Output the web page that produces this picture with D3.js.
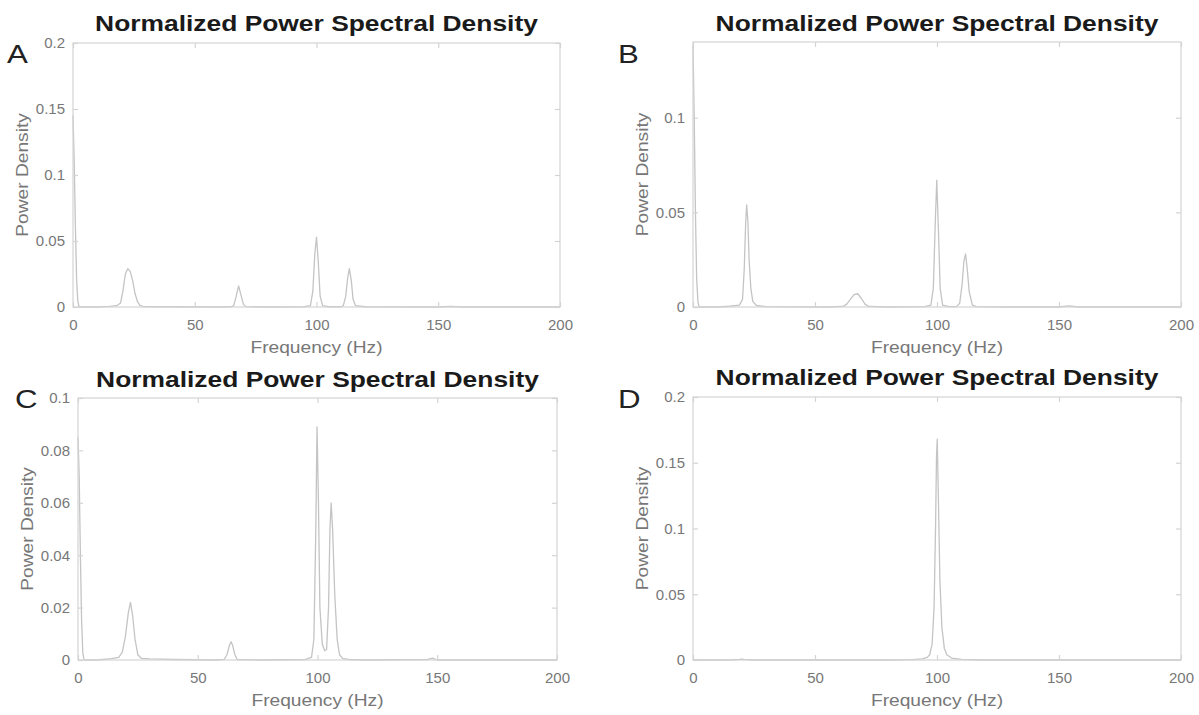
<!DOCTYPE html>
<html>
<head>
<meta charset="utf-8">
<script src="https://cdn.jsdelivr.net/npm/d3@7"></script>
<style>
  body { margin: 0; background: #fff; }
  svg { display: block; font-family: "Liberation Sans", Arial, Helvetica, sans-serif; }
</style>
</head>
<body>
<div id="chart"></div>
<script>
// spectra (Hz, normalized power density)
const freqA = [0, 0.5, 1, 1.5, 2, 2.5, 10, 15, 18, 19.5, 20.5, 21.5, 22.5, 23.5, 24.5, 25.5, 26.5, 27.5, 29, 35, 60, 65, 66, 67, 68, 69, 70, 71, 80, 95, 97.5, 98.5, 99.3, 100, 100.7, 101.5, 102.5, 105, 110, 111, 112, 112.8, 113.5, 114.3, 115, 116, 120, 150, 155, 160, 200];
const psdA  = [0.145, 0.11, 0.06, 0.02, 0.004, 0, 0, 0.0004, 0.001, 0.003, 0.012, 0.025, 0.029, 0.027, 0.02, 0.01, 0.004, 0.0012, 0.0003, 0.0002, 0, 0.0002, 0.001, 0.008, 0.016, 0.009, 0.002, 0.0003, 0, 0.0002, 0.001, 0.012, 0.04, 0.053, 0.035, 0.008, 0.001, 0.0002, 0.0002, 0.001, 0.008, 0.022, 0.029, 0.02, 0.006, 0.001, 0.0002, 0, 0.0004, 0, 0];

const freqB = [0, 0.5, 1, 1.5, 2, 2.5, 10, 15, 19, 20.3, 21, 21.6, 22, 22.5, 23, 23.7, 24.5, 26, 30, 55, 61.5, 63, 64.5, 66, 67.5, 69, 70.5, 72, 80, 95, 97.5, 98.5, 99.3, 99.9, 100.6, 101.3, 102.3, 105, 108, 109.3, 110.3, 111, 111.7, 112.4, 113.2, 114.5, 116, 130, 150, 154, 158, 200];
const psdB  = [0.138, 0.1, 0.05, 0.015, 0.003, 0, 0, 0.0004, 0.001, 0.004, 0.02, 0.045, 0.054, 0.045, 0.025, 0.01, 0.003, 0.0008, 0.0002, 0, 0.0003, 0.0015, 0.004, 0.0065, 0.007, 0.0045, 0.0015, 0.0003, 0, 0.0002, 0.001, 0.01, 0.045, 0.067, 0.04, 0.01, 0.001, 0.0002, 0.0002, 0.002, 0.012, 0.024, 0.028, 0.02, 0.008, 0.001, 0.0002, 0, 0, 0.0006, 0, 0];

const freqC = [0, 0.5, 1, 1.5, 2, 2.5, 8, 14, 17, 18.5, 19.8, 21, 21.9, 22.8, 23.8, 25, 26.5, 30, 40, 58, 61, 62.2, 63.2, 63.9, 64.6, 65.5, 66.5, 75, 95, 97.5, 98.5, 99.3, 99.8, 100.4, 101, 102, 103, 103.8, 104.6, 105.2, 105.7, 106.3, 107.2, 108.2, 109.2, 110.5, 113, 120, 146, 148, 150, 200];
const psdC  = [0.085, 0.07, 0.04, 0.015, 0.003, 0, 0, 0.0005, 0.001, 0.003, 0.009, 0.018, 0.022, 0.017, 0.008, 0.002, 0.0006, 0.0004, 0.0002, 0, 0.0002, 0.002, 0.0055, 0.007, 0.0055, 0.002, 0.0002, 0, 0.0002, 0.001, 0.008, 0.05, 0.089, 0.06, 0.02, 0.006, 0.0035, 0.004, 0.02, 0.05, 0.06, 0.05, 0.025, 0.008, 0.002, 0.0006, 0.0002, 0, 0.0002, 0.0007, 0, 0];

const freqD = [0, 15, 19, 20, 21, 25, 80, 90, 94, 96, 97, 98, 98.8, 99.4, 99.8, 100.1, 100.6, 101.2, 102, 103, 104, 106, 110, 115, 120, 200];
const psdD  = [0, 0, 0.0004, 0.0006, 0.0004, 0, 0, 0.0003, 0.0008, 0.002, 0.004, 0.012, 0.04, 0.1, 0.155, 0.168, 0.12, 0.06, 0.025, 0.009, 0.004, 0.0015, 0.0005, 0.0002, 0, 0];

const xTicks = [0, 50, 100, 150, 200];
const yTicksA = [0, 0.05, 0.1, 0.15, 0.2];
const yTicksB = [0, 0.05, 0.1];
const yTicksC = [0, 0.02, 0.04, 0.06, 0.08, 0.1];
const yTicksD = [0, 0.05, 0.1, 0.15, 0.2];

const panelLetters = ["A", "B", "C", "D"];
const titleText = "Normalized Power Spectral Density";
const xLabel = "Frequency (Hz)";
const yLabel = "Power Density";

const W = 1199, H = 715;
const svg = d3.select("#chart").append("svg").attr("width", W).attr("height", H);

// layout of the four axes boxes
const panels = [
  { letter: panelLetters[0], freq: freqA, psd: psdA, yMax: 0.2,  yTicks: yTicksA, l: 73,  r: 560,  t: 43,  b: 307, titleY: 31,  letterX: 7,   letterY: 63 },
  { letter: panelLetters[1], freq: freqB, psd: psdB, yMax: 0.14, yTicks: yTicksB, l: 693, r: 1181, t: 42,  b: 307, titleY: 31,  letterX: 618, letterY: 63 },
  { letter: panelLetters[2], freq: freqC, psd: psdC, yMax: 0.1,  yTicks: yTicksC, l: 78,  r: 557,  t: 398, b: 660, titleY: 387, letterX: 15,  letterY: 408 },
  { letter: panelLetters[3], freq: freqD, psd: psdD, yMax: 0.2,  yTicks: yTicksD, l: 693, r: 1181, t: 397, b: 660, titleY: 385, letterX: 618, letterY: 408 }
];

const frameColor = "#d4d4d4";
const tickTextColor = "#777";
const lineColor = "#c4c4c4";
const wide = 1.2; // the figure's lettering runs wider than Arial

panels.forEach(p => {
  const g = svg.append("g");
  const x = d3.scaleLinear().domain([0, 200]).range([p.l, p.r]);
  const y = d3.scaleLinear().domain([0, p.yMax]).range([p.b, p.t]);

  // the spectrum
  const pts = p.freq.map((f, i) => [f, p.psd[i]]);
  g.append("path")
    .datum(pts)
    .attr("fill", "none")
    .attr("stroke", lineColor)
    .attr("stroke-width", 1.3)
    .attr("stroke-linejoin", "round")
    .attr("d", d3.line().x(d => x(d[0])).y(d => y(d[1])));

  // box with inward ticks (matlab style)
  g.append("rect")
    .attr("x", p.l).attr("y", p.t)
    .attr("width", p.r - p.l).attr("height", p.b - p.t)
    .attr("fill", "none").attr("stroke", frameColor).attr("stroke-width", 1.2);

  const styleAxis = sel => {
    sel.select(".domain").remove();
    sel.selectAll(".tick line").attr("stroke", frameColor).attr("stroke-width", 1.2);
    sel.selectAll(".tick text").attr("fill", tickTextColor).style("font-size", "15px");
  };

  g.append("g").attr("transform", `translate(0,${p.b})`)
    .call(d3.axisBottom(x).tickValues(xTicks).tickSizeInner(-5).tickSizeOuter(0).tickPadding(12).tickFormat(d3.format("d")))
    .call(styleAxis);
  g.append("g").attr("transform", `translate(0,${p.t})`)
    .call(d3.axisTop(x).tickValues(xTicks).tickSizeInner(-5).tickSizeOuter(0).tickFormat(""))
    .call(styleAxis);
  g.append("g").attr("transform", `translate(${p.l},0)`)
    .call(d3.axisLeft(y).tickValues(p.yTicks).tickSizeInner(-5).tickSizeOuter(0).tickPadding(8).tickFormat(d => String(d)))
    .call(styleAxis);
  g.append("g").attr("transform", `translate(${p.r},0)`)
    .call(d3.axisRight(y).tickValues(p.yTicks).tickSizeInner(-5).tickSizeOuter(0).tickFormat(""))
    .call(styleAxis);

  // labels
  g.append("text")
    .attr("transform", `translate(${(p.l + p.r) / 2},${p.b + 46}) scale(${wide},1)`)
    .attr("text-anchor", "middle").attr("fill", tickTextColor)
    .style("font-size", "16px").text(xLabel);
  g.append("text")
    .attr("transform", `translate(${p.l - 50},${(p.t + p.b) / 2}) rotate(-90) scale(${wide},1)`)
    .attr("text-anchor", "middle").attr("dominant-baseline", "central").attr("fill", tickTextColor)
    .style("font-size", "16px").text(yLabel);
  g.append("text")
    .attr("transform", `translate(${(p.l + p.r) / 2},${p.titleY}) scale(${wide},1)`)
    .attr("text-anchor", "middle").attr("fill", "#1a1a1a")
    .style("font-size", "22px").style("font-weight", "bold").text(titleText);
  g.append("text")
    .attr("transform", `translate(${p.letterX},${p.letterY}) scale(1.25,1)`)
    .attr("fill", "#222").style("font-size", "25px").text(p.letter);
});
</script>
</body>
</html>
